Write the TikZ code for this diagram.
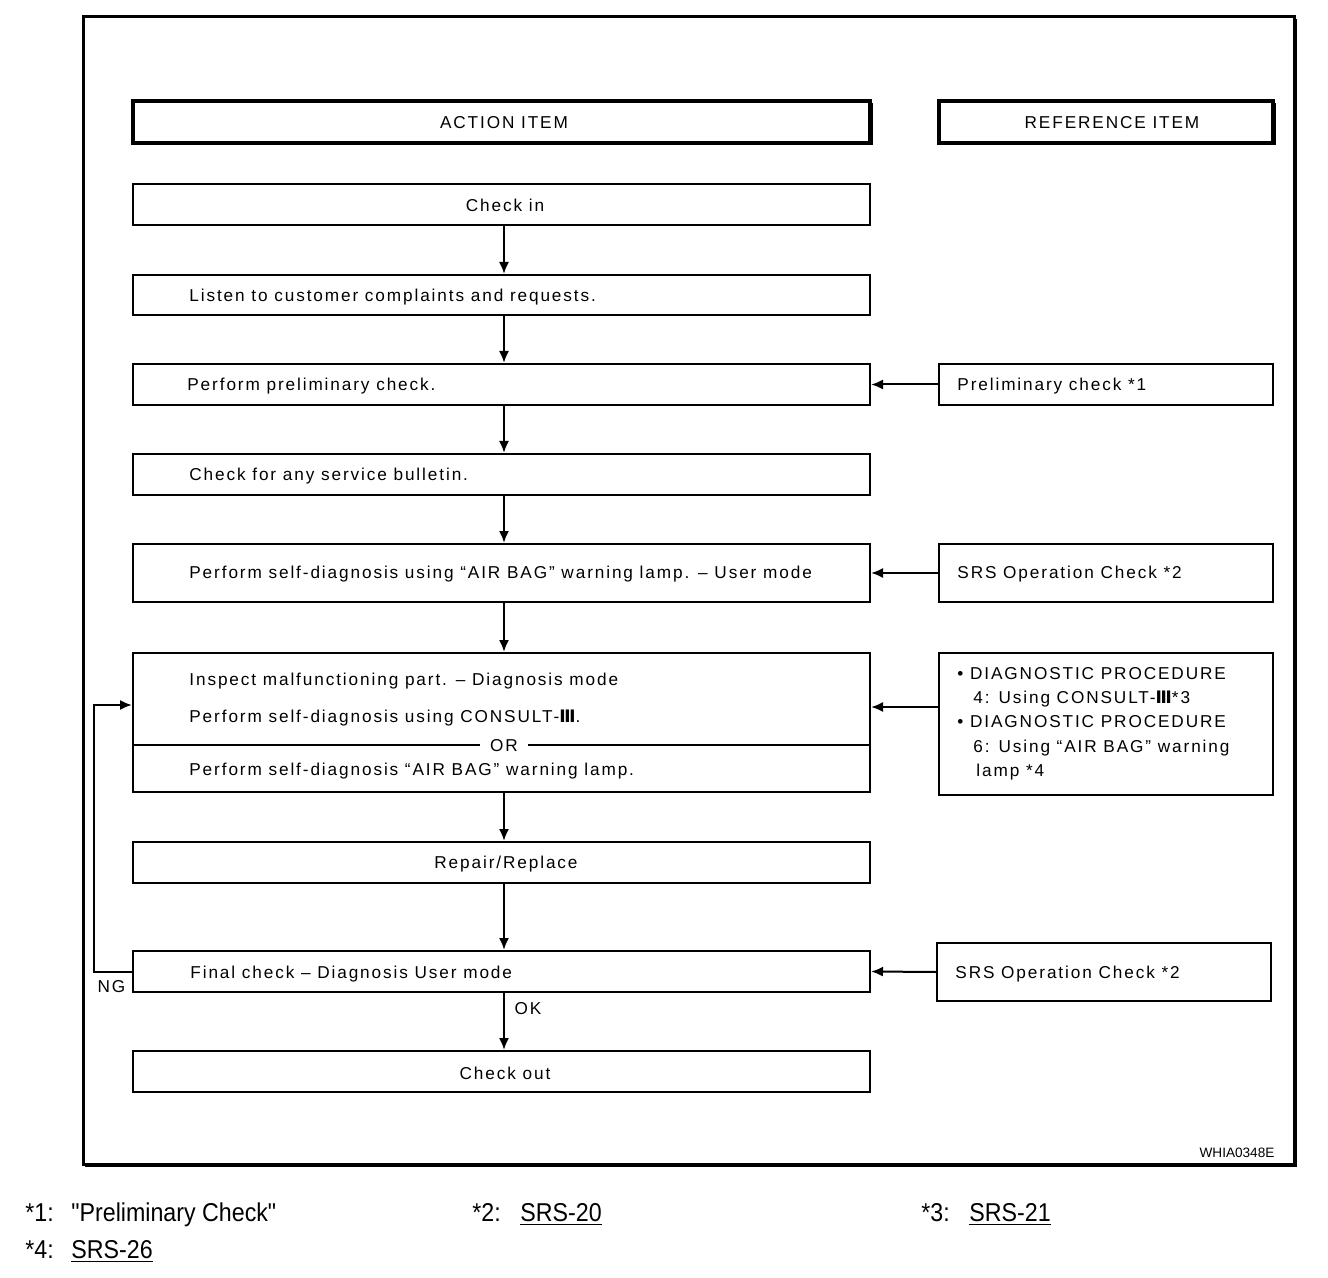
\documentclass[tikz,border=0pt]{standalone}
\usepackage{fontspec}
\setmainfont{Liberation Sans}[LetterSpace=11]
\newfontfamily\footfont{Liberation Sans}[FakeStretch=0.9]
\newfontfamily\plainfont{Liberation Sans}
\newfontfamily\numfont{DejaVu Sans}[LetterSpace=11]
\usetikzlibrary{arrows.meta,fit}
\newcommand{\RomThree}{{\numfont\bfseries Ⅲ}}
\begin{document}
\begin{tikzpicture}[x=0.5pt,y=-0.5pt,
  box/.style={draw, line width=1pt, inner sep=0pt},
  hbox/.style={draw, line width=1.6pt, inner sep=0pt},
  txt/.style={inner sep=0pt, text height=6.1pt, text depth=0pt, font=\fontsize{8.6pt}{12pt}\selectfont},
  ftxt/.style={inner sep=0pt, anchor=base west, font=\footfont\fontsize{12.9pt}{14pt}\selectfont},
  arr/.style={line width=1pt, -{Latex[length=6pt,width=5pt]}},
]
\useasboundingbox (0,0) rectangle (1328,1278);
% outer frame
\node[draw, line width=1.5pt, inner sep=0pt, fit={(83,17)(1294,1164)}] (frame) {};
\draw[line width=1pt] (1296,19) -- (1296,1166) -- (85,1166);
% headers
\node[hbox, fit={(133,101)(870,143)}] (acthead) {};
\node[hbox, fit={(939,101)(1273,143)}] (refhead) {};
\draw[line width=1pt] (135,144.5) -- (871.5,144.5) -- (871.5,103);
\draw[line width=1pt] (941,144.5) -- (1274.5,144.5) -- (1274.5,103);
\node[txt] (tacthead) at (504,122) {ACTION ITEM};
\node[txt] (trefhead) at (1112,122) {REFERENCE ITEM};
% action boxes
\node[box, fit={(133,184)(870,225)}] (checkin) {};
\node[box, fit={(133,275)(870,315)}] (listen) {};
\node[box, fit={(133,364)(870,405)}] (prelim) {};
\node[box, fit={(133,454)(870,495)}] (bulletin) {};
\node[box, fit={(133,544)(870,602)}] (selfdiag) {};
\node[box, fit={(133,653)(870,792)}] (inspect) {};
\node[box, fit={(133,842)(870,883)}] (repair) {};
\node[box, fit={(133,951)(870,992)}] (final) {};
\node[box, fit={(133,1051)(870,1092)}] (checkout) {};
% reference boxes
\node[box, fit={(939,364)(1273,405)}] (prelimref) {};
\node[box, fit={(939,544)(1273,602)}] (srsref) {};
\node[box, fit={(939,653)(1273,795)}] (diagref) {};
\node[box, fit={(937,943)(1271,1001)}] (srsref2) {};
% action texts
\node[txt] (tcheckin) at (505,205) {Check in};
\node[txt, anchor=west] (tlisten) at (189,295) {Listen to customer complaints and requests.};
\node[txt, anchor=west] (tprelim) at (187,384) {Perform preliminary check.};
\node[txt, anchor=west] (tbulletin) at (189,474) {Check for any service bulletin.};
\node[txt, anchor=west] (tselfdiag) at (189,572) {Perform self-diagnosis using “AIR BAG” warning lamp. – User mode};
\node[txt, anchor=west] (tinspect1) at (189,679) {Inspect malfunctioning part. – Diagnosis mode};
\node[txt, anchor=west] (tinspect2) at (189,716) {Perform self-diagnosis using CONSULT-\RomThree.};
\coordinate (yor) at (0,745);
\draw[line width=1pt] (inspect.west |- yor) -- (inspect.east |- yor);
\node[txt, fill=white, inner xsep=5pt] (tor) at (504,745) {OR};
\node[txt, anchor=west] (tinspect3) at (189,769) {Perform self-diagnosis “AIR BAG” warning lamp.};
\node[txt] (trepair) at (506,862) {Repair/Replace};
\node[txt, anchor=west] (tfinal) at (190,972) {Final check – Diagnosis User mode};
\node[txt] (tcheckout) at (505,1073) {Check out};
% reference texts
\node[txt, anchor=west] (tprelimref) at (957,384) {Preliminary check *1};
\node[txt, anchor=west] (tsrsref) at (957,572) {SRS Operation Check *2};
\node[txt, anchor=west] (tsrsref2) at (955,972) {SRS Operation Check *2};
\node[txt, anchor=west] (tdiag1) at (957,673) {• DIAGNOSTIC PROCEDURE};
\node[txt, anchor=west] (tdiag2) at (973,697) {4: Using CONSULT-\RomThree*3};
\node[txt, anchor=west] (tdiag3) at (957,721) {• DIAGNOSTIC PROCEDURE};
\node[txt, anchor=west] (tdiag4) at (973,746) {6: Using “AIR BAG” warning};
\node[txt, anchor=west] (tdiag5) at (976,770) {lamp *4};
% vertical arrows
\coordinate (xa) at (504,0);
\draw[arr] (checkin.south -| xa) -- (listen.north -| xa);
\draw[arr] (listen.south -| xa) -- (prelim.north -| xa);
\draw[arr] (prelim.south -| xa) -- (bulletin.north -| xa);
\draw[arr] (bulletin.south -| xa) -- (selfdiag.north -| xa);
\draw[arr] (selfdiag.south -| xa) -- (inspect.north -| xa);
\draw[arr] (inspect.south -| xa) -- (repair.north -| xa);
\draw[arr] (repair.south -| xa) -- (final.north -| xa);
\draw[arr] (final.south -| xa) -- (checkout.north -| xa);
\node[txt] (tok) at (528,1008) {OK};
% horizontal arrows
\draw[arr] (prelimref.west) -- (prelim.east);
\draw[arr] (srsref.west) -- (selfdiag.east);
\coordinate (ydiag) at (0,707);
\draw[arr] (diagref.west |- ydiag) -- (inspect.east |- ydiag);
\draw[arr] (srsref2.west) -- (final.east);
% NG loop
\coordinate (yng) at (0,705);
\draw[arr] (final.west) -- ++(-38,0) |- (inspect.west |- yng);
\node[txt] (tng) at (111.5,986) {NG};
% code
\node[inner sep=0pt, font=\plainfont\fontsize{6.8pt}{8pt}\selectfont, text height=5pt, text depth=0pt] (code) at (1237,1152) {WHIA0348E};
% footnotes
\node[ftxt] (f1a) at (25,1221) {*1:};
\node[ftxt] (f1b) at (71,1221) {"Preliminary Check"};
\node[ftxt] (f2a) at (472,1221) {*2:};
\node[ftxt] (f2b) at (520,1221) {\underline{SRS-20}};
\node[ftxt] (f3a) at (921,1221) {*3:};
\node[ftxt] (f3b) at (969,1221) {\underline{SRS-21}};
\node[ftxt] (f4a) at (25,1258) {*4:};
\node[ftxt] (f4b) at (71,1258) {\underline{SRS-26}};
\end{tikzpicture}
\end{document}
